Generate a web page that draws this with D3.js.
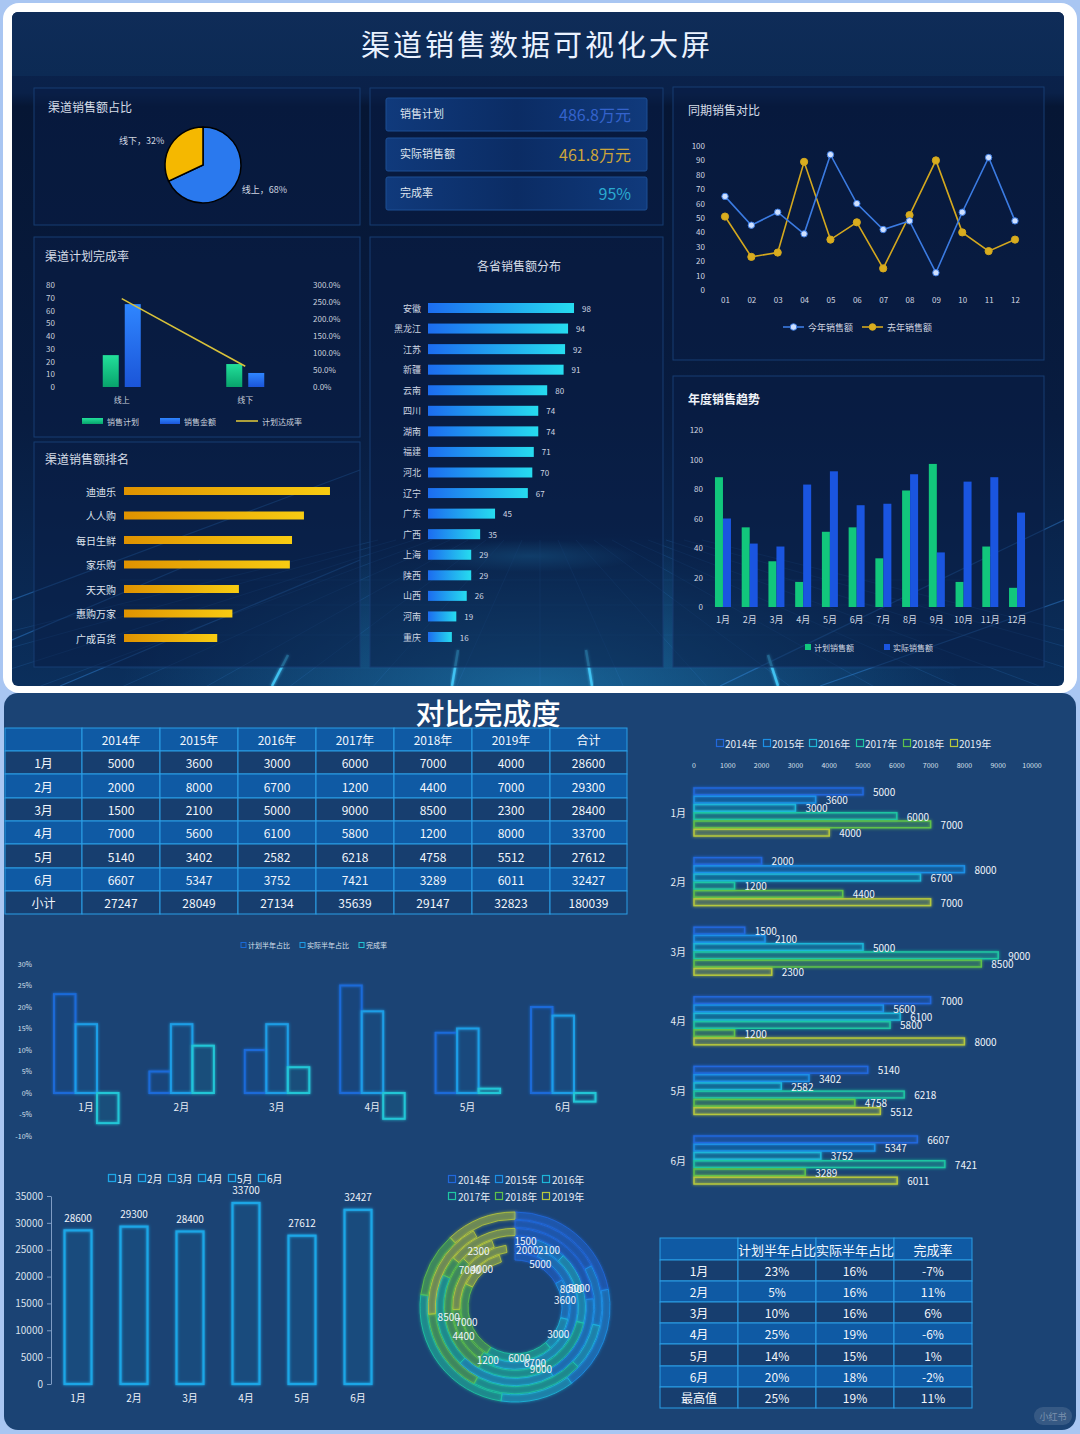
<!DOCTYPE html>
<html><head><meta charset="utf-8">
<script src="https://cdn.jsdelivr.net/npm/d3@7"></script>
<style>
html,body{margin:0;padding:0;background:#a9c6f2;}
svg{display:block;}
text{font-family:"Noto Sans CJK SC","Noto Sans",sans-serif;}
</style></head><body>
<svg id="c" width="1080" height="1434"></svg>
<script>
// ================= DATA =================
const pieNames=['线上','线下'];
const pieValues=[68,32];

const planCats=['线上','线下'];
const planTarget=[25,18];
const planActual=[65,11];
const planRate=[260,61];
const planLegend=['销售计划','销售金额','计划达成率'];
const planLeftTicks=[0,10,20,30,40,50,60,70,80];
const planRightTicks=[0,50,100,150,200,250,300];

const rankNames=['迪迪乐','人人购','每日生鲜','家乐购','天天购','惠购万家','广成百货'];
const rankValues=[95,83,77.5,76.5,53,50,43];

const kpiNames=['销售计划','实际销售额','完成率'];
const kpiValues=['486.8万元','461.8万元','95%'];

const provNames=['安徽','黑龙江','江苏','新疆','云南','四川','湖南','福建','河北','辽宁','广东','广西','上海','陕西','山西','河南','重庆'];
const provValues=[98,94,92,91,80,74,74,71,70,67,45,35,29,29,26,19,16];

const cmpMonths=['01','02','03','04','05','06','07','08','09','10','11','12'];
const cmpThisYear=[65,45,54,39,94,60,42,48,12,54,92,48];
const cmpLastYear=[51,23,26,89,35,47,15,52,90,40,27,35];
const cmpLegend=['今年销售额','去年销售额'];
const cmpTicks=[0,10,20,30,40,50,60,70,80,90,100];

const trendMonths=['1月','2月','3月','4月','5月','6月','7月','8月','9月','10月','11月','12月'];
const trendPlan=[88,54,31,17,51,54,33,79,97,17,41,13];
const trendActual=[60,43,41,83,92,69,70,90,37,85,88,64];
const trendLegend=['计划销售额','实际销售额'];
const trendTicks=[0,20,40,60,80,100,120];

const halfMonths=['1月','2月','3月','4月','5月','6月'];
const years=['2014年','2015年','2016年','2017年','2018年','2019年'];
const sales2014=[5000,2000,1500,7000,5140,6607];
const sales2015=[3600,8000,2100,5600,3402,5347];
const sales2016=[3000,6700,5000,6100,2582,3752];
const sales2017=[6000,1200,9000,5800,6218,7421];
const sales2018=[7000,4400,8500,1200,4758,3289];
const sales2019=[4000,7000,2300,8000,5512,6011];
const monthTotals=[28600,29300,28400,33700,27612,32427];
const yearTotals=[27247,28049,27134,35639,29147,32823];
const grandTotal=180039;
const totalTicks=[0,5000,10000,15000,20000,25000,30000,35000];
const hbarTicks=[0,1000,2000,3000,4000,5000,6000,7000,8000,9000,10000];

const planShare=[23,5,10,25,14,20];
const actualShare=[16,16,16,19,15,18];
const completion=[-7,11,6,-6,1,-2];
const shareMax=[25,19,11];
const shareLegend=['计划半年占比','实际半年占比','完成率'];
const shareTicks=[-10,-5,0,5,10,15,20,25,30];

// ================= HELPERS =================
const svg=d3.select('#c');
const defs=svg.append('defs');
function T(g,x,y,s,size,fill,anchor,extra){
  const t=g.append('text').attr('x',x).attr('y',y).text(s).attr('font-size',size)
    .attr('fill',fill||'#fff').attr('text-anchor',anchor||'start').attr('dominant-baseline','central');
  if(extra) for(const k in extra) t.attr(k,extra[k]);
  return t;
}
function lg(id,x1,y1,x2,y2,stops){
  const g=defs.append('linearGradient').attr('id',id).attr('x1',x1).attr('y1',y1).attr('x2',x2).attr('y2',y2);
  stops.forEach(s=>g.append('stop').attr('offset',s[0]).attr('stop-color',s[1]).attr('stop-opacity',s[2]==null?1:s[2]));
}
function styleAxis(sel,size,fill){
  sel.select('.domain').remove();
  sel.selectAll('.tick line').remove();
  sel.selectAll('text').attr('font-size',size).attr('fill',fill).attr('font-family','"Noto Sans CJK SC",sans-serif');
}
lg('dashBg',0,0,0,1,[[0,'#0b2450'],[0.12,'#0a2149'],[0.14,'#061634'],[0.6,'#081c40'],[1,'#0b2f5c']]);
lg('headBg',0,0,0,1,[[0,'#0f2c58'],[1,'#0c2a54']]);
lg('greenV',0,0,0,1,[[0,'#22e09a'],[1,'#08a36c']]);
lg('blueV',0,0,0,1,[[0,'#2f86ff'],[1,'#1b55d8']]);
lg('rankGrad',0,0,1,0,[[0,'#df9200'],[1,'#f8cc12']]);
lg('provGrad',0,0,1,0,[[0,'#1c6cf0'],[1,'#26dcef']]);
lg('kpiGrad',0,0,1,0,[[0,'#103a7c'],[0.5,'#0b2c64'],[1,'#103a7c']]);
const rg=defs.append('radialGradient').attr('id','bottomGlow').attr('cx','50%').attr('cy','50%').attr('r','50%');
rg.append('stop').attr('offset',0).attr('stop-color','#2aa6e0').attr('stop-opacity',0.45);
rg.append('stop').attr('offset',1).attr('stop-color','#2aa6e0').attr('stop-opacity',0);
const glow=defs.append('filter').attr('id','glow').attr('x','-20%').attr('y','-20%').attr('width','140%').attr('height','140%');
glow.append('feGaussianBlur').attr('in','SourceGraphic').attr('stdDeviation',1.6).attr('result','b');
const gm=glow.append('feMerge'); gm.append('feMergeNode').attr('in','b'); gm.append('feMergeNode').attr('in','SourceGraphic');
defs.append('clipPath').attr('id','dashClip').append('rect').attr('x',12).attr('y',12).attr('width',1052).attr('height',674).attr('rx',6);

// ================= BACKGROUND =================
svg.append('rect').attr('width',1080).attr('height',1434).attr('fill','#a9c6f2');
svg.append('rect').attr('x',3).attr('y',3).attr('width',1074).attr('height',690).attr('rx',16).attr('fill','#ffffff');
svg.append('rect').attr('x',12).attr('y',12).attr('width',1052).attr('height',674).attr('rx',6).attr('fill','url(#dashBg)');
const deco=svg.append('g').attr('clip-path','url(#dashClip)');
deco.append('rect').attr('x',12).attr('y',12).attr('width',1052).attr('height',64).attr('fill','url(#headBg)');
deco.append('ellipse').attr('cx',540).attr('cy',690).attr('rx',420).attr('ry',160).attr('fill','url(#bottomGlow)');
deco.append('ellipse').attr('cx',530).attr('cy',556).attr('rx',110).attr('ry',16).attr('fill','url(#bottomGlow)');
for(let i=-9;i<=9;i++){
  deco.append('line').attr('x1',540+i*18).attr('y1',540).attr('x2',540+i*85).attr('y2',690)
    .attr('stroke','#2f78c0').attr('stroke-opacity',0.22).attr('stroke-width',1);
}
[580,605,635,668].forEach(y=>deco.append('line').attr('x1',120).attr('x2',960).attr('y1',y).attr('y2',y)
  .attr('stroke','#2f78c0').attr('stroke-opacity',0.15));
[[12,640,200,560],[12,600,360,470],[60,686,360,560],[720,686,1064,520],[820,686,1064,600]].forEach(l=>
  deco.append('line').attr('x1',l[0]).attr('y1',l[1]).attr('x2',l[2]).attr('y2',l[3])
  .attr('stroke','#3fa0ff').attr('stroke-opacity',0.35).attr('stroke-width',1.2));
[[272,686,288,655],[452,686,458,650],[592,686,586,650],[778,686,768,655]].forEach(l=>
  deco.append('line').attr('x1',l[0]).attr('y1',l[1]).attr('x2',l[2]).attr('y2',l[3])
  .attr('stroke','#46d0ff').attr('stroke-opacity',0.8).attr('stroke-width',2.5).attr('filter','url(#glow)'));

T(svg,537,43,'渠道销售数据可视化大屏',29,'#eaf2ff','middle',{'letter-spacing':3});

function panel(x,y,w,h){
  svg.append('rect').attr('x',x).attr('y',y).attr('width',w).attr('height',h)
    .attr('fill','rgba(9,30,70,0.55)').attr('stroke','#163c72').attr('stroke-width',1);
}
panel(34,88,326,137); panel(34,237,326,200); panel(34,442,326,225);
panel(370,88,293,137); panel(370,237,293,430);
panel(673,87,371,273); panel(673,376,371,291);

// ================= PIE =================
T(svg,48,106,'渠道销售额占比',12,'#d6dde8');
const pieG=svg.append('g').attr('transform','translate(203,165)');
const pieArcs=d3.pie().sort(null)(pieValues);
pieG.selectAll('path').data(pieArcs).join('path').attr('d',d3.arc().innerRadius(0).outerRadius(38))
  .attr('fill',(d,i)=>['#2a79ee','#f5b800'][i]).attr('stroke','#000').attr('stroke-width',1.5);
const labArc=d3.arc().innerRadius(46).outerRadius(46);
pieArcs.forEach((d,i)=>{
  const c=labArc.centroid(d); const mid=(d.startAngle+d.endAngle)/2;
  T(pieG,c[0],c[1],pieNames[i]+'，'+pieValues[i]+'%',9,'#d0d6e0',Math.sin(mid)>0?'start':'end');
});

// ================= PLAN COMPLETION =================
T(svg,45,255,'渠道计划完成率',12,'#d6dde8');
const pX=d3.scaleBand(planCats,[60,307]);
const pY=d3.scaleLinear([0,80],[387,285]);
const pR=d3.scaleLinear([0,300],[387,285]);
svg.append('g').attr('transform','translate(55,0)').call(d3.axisLeft(pY).tickValues(planLeftTicks).tickSize(0).tickPadding(0)).call(s=>styleAxis(s,8,'#c8d0dc'));
svg.append('g').attr('transform','translate(313,0)').call(d3.axisRight(pR).tickValues(planRightTicks).tickSize(0).tickPadding(0).tickFormat(d=>d.toFixed(1)+'%')).call(s=>styleAxis(s,8,'#c8d0dc'));
const pc=c=>pX(c)+pX.bandwidth()/2;
planCats.forEach((c,i)=>{
  svg.append('rect').attr('x',pc(c)-19).attr('y',pY(planTarget[i])).attr('width',16).attr('height',pY(0)-pY(planTarget[i])).attr('fill','url(#greenV)');
  svg.append('rect').attr('x',pc(c)+3).attr('y',pY(planActual[i])).attr('width',16).attr('height',pY(0)-pY(planActual[i])).attr('fill','url(#blueV)');
  T(svg,pc(c),399,c,8,'#c8d0dc','middle');
});
svg.append('path').attr('d',d3.line().x((d,i)=>pc(planCats[i])).y(d=>pR(d))(planRate))
  .attr('fill','none').attr('stroke','#d9c23a').attr('stroke-width',1.6);
svg.append('rect').attr('x',82).attr('y',418).attr('width',21).attr('height',6).attr('fill','url(#greenV)');
T(svg,107,421,planLegend[0],8,'#c8d0dc');
svg.append('rect').attr('x',160).attr('y',418).attr('width',20).attr('height',6).attr('fill','url(#blueV)');
T(svg,184,421,planLegend[1],8,'#c8d0dc');
svg.append('line').attr('x1',236).attr('x2',258).attr('y1',421).attr('y2',421).attr('stroke','#d9c23a').attr('stroke-width',1.6);
T(svg,262,421,planLegend[2],8,'#c8d0dc');

// ================= RANKING =================
T(svg,45,458,'渠道销售额排名',12,'#d6dde8');
const rY=d3.scalePoint(rankNames,[491,638]);
const rX=d3.scaleLinear([0,100],[124,340.8]);
rankNames.forEach((n,i)=>{
  svg.append('rect').attr('x',rX(0)).attr('y',rY(n)-4).attr('width',rX(rankValues[i])-rX(0)).attr('height',8).attr('fill','url(#rankGrad)');
  T(svg,116,rY(n),n,10,'#dfe5ee','end');
});

// ================= KPI =================
const kpiColors=['#3463cc','#cda53a','#2aaad0'];
const kpiY=[98,138,177];
kpiNames.forEach((n,i)=>{
  svg.append('rect').attr('x',386).attr('y',kpiY[i]).attr('width',261).attr('height',33).attr('rx',2)
    .attr('fill','url(#kpiGrad)').attr('stroke','#1d4e94').attr('stroke-width',1);
  T(svg,400,kpiY[i]+15,n,11,'#dfe5ee');
  T(svg,631,kpiY[i]+16,kpiValues[i],16,kpiColors[i],'end');
});

// ================= PROVINCES =================
T(svg,519,265,'各省销售额分布',12,'#d6dde8','middle');
const pvY=d3.scalePoint(provNames,[308,637]);
const pvX=d3.scaleLinear([0,100],[428,577]);
provNames.forEach((n,i)=>{
  svg.append('rect').attr('x',pvX(0)).attr('y',pvY(n)-5).attr('width',pvX(provValues[i])-pvX(0)).attr('height',10).attr('fill','url(#provGrad)');
  T(svg,421,pvY(n),n,9,'#cfd6e2','end');
  T(svg,pvX(provValues[i])+8,pvY(n),provValues[i],8,'#cfd6e2');
});

// ================= SAME PERIOD LINE =================
T(svg,688,109,'同期销售对比',12,'#d6dde8');
const cX=d3.scalePoint(cmpMonths,[725,1015]);
const cY=d3.scaleLinear([0,100],[290,146]);
svg.append('g').attr('transform','translate(705,0)').call(d3.axisLeft(cY).tickValues(cmpTicks).tickSize(0).tickPadding(0)).call(s=>styleAxis(s,8,'#d0d6e0'));
svg.append('g').attr('transform','translate(0,297)').call(d3.axisBottom(cX).tickSize(0).tickPadding(0)).call(s=>styleAxis(s,8,'#d0d6e0'));
const cLine=d3.line().x((d,i)=>cX(cmpMonths[i])).y(d=>cY(d));
[[cmpLastYear,'#d4a81e','#d9ad1f',3.6],[cmpThisYear,'#3b7be2','#cfe0ff',3.2]].forEach(([arr,lc,fc,r])=>{
  svg.append('path').attr('d',cLine(arr)).attr('fill','none').attr('stroke',lc).attr('stroke-width',1.6);
  arr.forEach((v,i)=>svg.append('circle').attr('cx',cX(cmpMonths[i])).attr('cy',cY(v)).attr('r',r).attr('fill',fc).attr('stroke',lc).attr('stroke-width',1));
});
[[783,cmpLegend[0],'#3b7be2','#cfe0ff'],[862,cmpLegend[1],'#d4a81e','#d9ad1f']].forEach(([x,s,lc,fc])=>{
  svg.append('line').attr('x1',x).attr('x2',x+21).attr('y1',327).attr('y2',327).attr('stroke',lc).attr('stroke-width',1.6);
  svg.append('circle').attr('cx',x+10.5).attr('cy',327).attr('r',3.3).attr('fill',fc).attr('stroke',lc);
  T(svg,x+25,327,s,9,'#d0d6e0');
});

// ================= YEAR TREND =================
T(svg,688,398,'年度销售趋势',12,'#eef2f8','start',{'font-weight':'bold'});
const tX=d3.scaleBand(trendMonths,[709.6,1030.4]);
const tY=d3.scaleLinear([0,120],[607,430]);
svg.append('g').attr('transform','translate(703,0)').call(d3.axisLeft(tY).tickValues(trendTicks).tickSize(0).tickPadding(0)).call(s=>styleAxis(s,8,'#d0d6e0'));
trendMonths.forEach((m,i)=>{
  const c=tX(m)+tX.bandwidth()/2;
  svg.append('rect').attr('x',c-8).attr('y',tY(trendPlan[i])).attr('width',8).attr('height',tY(0)-tY(trendPlan[i])).attr('fill','#12c77c');
  svg.append('rect').attr('x',c).attr('y',tY(trendActual[i])).attr('width',8).attr('height',tY(0)-tY(trendActual[i])).attr('fill','#1a55e0');
  T(svg,c,619,m,9,'#d0d6e0','middle');
});
svg.append('rect').attr('x',805).attr('y',644).attr('width',6).attr('height',6).attr('fill','#12c77c');
T(svg,814,647,trendLegend[0],8,'#d0d6e0');
svg.append('rect').attr('x',884).attr('y',644).attr('width',6).attr('height',6).attr('fill','#1a55e0');
T(svg,893,647,trendLegend[1],8,'#d0d6e0');

// ================= BOTTOM SECTION =================
svg.append('rect').attr('x',4).attr('y',693).attr('width',1072).attr('height',737).attr('rx',14).attr('fill','#1b4374');
T(svg,488,712,'对比完成度',29,'#ffffff','middle',{'font-weight':500});

// ---- table 1
const t1Cols=[5,82,160,238,316,394,472,550,627];
const t1Rows=[728,751,774,798,821,844,868,891,914];
const t1Head=['',...years,'合计'];
const salesByYear=[sales2014,sales2015,sales2016,sales2017,sales2018,sales2019];
const t1Body=halfMonths.map((m,i)=>[m,...salesByYear.map(a=>a[i]),monthTotals[i]]);
t1Body.push(['小计',...yearTotals,grandTotal]);
const t1All=[t1Head,...t1Body];
t1All.forEach((row,r)=>{
  const fill=(r%2===0)?'#0f5aa4':'#173e6f';
  row.forEach((v,c)=>{
    svg.append('rect').attr('x',t1Cols[c]).attr('y',t1Rows[r]).attr('width',t1Cols[c+1]-t1Cols[c]).attr('height',t1Rows[r+1]-t1Rows[r])
      .attr('fill',fill).attr('stroke','#2a9ee6').attr('stroke-width',1);
    T(svg,(t1Cols[c]+t1Cols[c+1])/2,(t1Rows[r]+t1Rows[r+1])/2,v,12,'#f2f6fc','middle');
  });
});

// ---- share bar chart
const shareColors=['#1a6ad8','#1e9ee6','#22c6d6'];
const sX=d3.scalePoint(halfMonths,[86,563]);
const sY=d3.scaleLinear([-10,30],[1136,964]);
svg.append('g').attr('transform','translate(32,0)').call(d3.axisLeft(sY).tickValues(shareTicks).tickSize(0).tickPadding(0).tickFormat(d=>d+'%')).call(s=>styleAxis(s,7,'#d8e0ec'));
const shareG=svg.append('g').attr('filter','url(#glow)');
const shareSeries=[planShare,actualShare,completion];
const shareOff=[-32,-10.5,11];
halfMonths.forEach((m,i)=>{
  shareSeries.forEach((arr,k)=>{
    const v=arr[i];
    shareG.append('rect').attr('x',sX(m)+shareOff[k]).attr('y',Math.min(sY(v),sY(0))).attr('width',21.5)
      .attr('height',Math.abs(sY(v)-sY(0))).attr('fill',shareColors[k]).attr('fill-opacity',0.04)
      .attr('stroke',shareColors[k]).attr('stroke-width',2);
  });
  T(svg,sX(m),1106,m,10,'#e6ecf5','middle');
});
[[241,shareLegend[0]],[300,shareLegend[1]],[359,shareLegend[2]]].forEach(([x,s],k)=>{
  svg.append('rect').attr('x',x).attr('y',942.5).attr('width',5).attr('height',5).attr('fill','none').attr('stroke',shareColors[k]).attr('stroke-width',1);
  T(svg,x+7,945,s,7,'#d8e0ec');
});

// ---- monthly totals
const oX=d3.scalePoint(halfMonths,[78,358]);
const oY=d3.scaleLinear([0,35000],[1384,1196]);
svg.append('g').attr('transform','translate(51,0)').call(d3.axisLeft(oY).tickValues(totalTicks).tickSize(4).tickSizeOuter(0).tickPadding(4).tickFormat(d3.format('d')))
  .call(s=>{s.select('.domain').attr('stroke','#7f9cc4');s.selectAll('.tick line').attr('stroke','#7f9cc4');
    s.selectAll('text').attr('font-size',10).attr('fill','#d8e0ec').attr('font-family','"Noto Sans CJK SC",sans-serif');});
const totG=svg.append('g').attr('filter','url(#glow)');
halfMonths.forEach((m,i)=>{
  totG.append('rect').attr('x',oX(m)-13.5).attr('y',oY(monthTotals[i])).attr('width',27).attr('height',oY(0)-oY(monthTotals[i]))
    .attr('fill','#1ea6e6').attr('fill-opacity',0.04).attr('stroke','#1ea6e6').attr('stroke-width',2.2);
  T(svg,oX(m),oY(monthTotals[i])-13,monthTotals[i],10,'#eef3fa','middle');
  T(svg,oX(m),1397,m,10,'#eef3fa','middle');
});
[112,142,172,202,232,262].forEach((x,i)=>{
  svg.append('rect').attr('x',x-3.5).attr('y',1174.5).attr('width',7).attr('height',7).attr('fill','none').attr('stroke','#1ea6e6').attr('stroke-width',1.3);
  T(svg,x+5,1178,halfMonths[i],10,'#eef3fa');
});

// ---- radial stacked
const yearColors=['#2168dc','#1c90e6','#1db6d8','#1fc6a2','#5ec24a','#b6c83c'];
const radG=svg.append('g').attr('transform','translate(515,1307)');
const angle=d3.scaleLinear([0,30000],[0,2*Math.PI]).clamp(true);
const rad=d3.scaleBand(halfMonths,[47,95]).paddingInner(0.12);
const radArc=d3.arc();
const radSegs=radG.append('g').attr('filter','url(#glow)');
const radLabels=[];
halfMonths.forEach((m,i)=>{
  let cum=0;
  salesByYear.forEach((arr,j)=>{
    const v=arr[i];
    const d={innerRadius:rad(m),outerRadius:rad(m)+rad.bandwidth(),startAngle:angle(cum),endAngle:angle(cum+v)};
    radSegs.append('path').attr('d',radArc(d)).attr('fill',yearColors[j]).attr('fill-opacity',0.3)
      .attr('stroke',yearColors[j]).attr('stroke-opacity',0.85).attr('stroke-width',1);
    if(i<3) radLabels.push([radArc.centroid(d),v]);
    cum+=v;
  });
});
radLabels.forEach(([c,v])=>T(radG,c[0],c[1],v,10,'#f0f4fa','middle'));
[[452,1179],[499,1179],[546,1179],[452,1196],[499,1196],[546,1196]].forEach(([x,y],j)=>{
  svg.append('rect').attr('x',x-3.5).attr('y',y-3.5).attr('width',7).attr('height',7).attr('fill','none').attr('stroke',yearColors[j]).attr('stroke-width',1.2);
  T(svg,x+6,y,years[j],10,'#e6ecf5');
});

// ---- horizontal grouped bars
const hX=d3.scaleLinear([0,10000],[694,1032]);
const hY=d3.scalePoint(halfMonths,[812,1160]);
const hYY=d3.scaleBand(years,[-24,24]).paddingInner(0.18);
hbarTicks.forEach(t=>T(svg,hX(t),765,t,7,'#d8e0ec','middle'));
const hG=svg.append('g').attr('filter','url(#glow)');
halfMonths.forEach((m,i)=>{
  T(svg,686,hY(m),m,10,'#e6ecf5','end');
  salesByYear.forEach((arr,j)=>{
    const y=hY(m)+hYY(years[j]);
    hG.append('rect').attr('x',hX(0)).attr('y',y).attr('width',hX(arr[i])-hX(0)).attr('height',hYY.bandwidth())
      .attr('fill',yearColors[j]).attr('fill-opacity',0.15).attr('stroke',yearColors[j]).attr('stroke-width',1.5);
    T(svg,hX(arr[i])+10,y+hYY.bandwidth()/2,arr[i],10,'#eef3fa');
  });
});
[720,767,813,860,907,954].forEach((x,j)=>{
  svg.append('rect').attr('x',x-3.5).attr('y',739.5).attr('width',7).attr('height',7).attr('fill','none').attr('stroke',yearColors[j]).attr('stroke-width',1.2);
  T(svg,x+5,743,years[j],10,'#e6ecf5');
});

// ---- table 2
const t2Cols=[660,738,816,894,972];
const t2Rows=[1238,1260,1281,1302,1323,1344,1366,1387,1408];
const pct=v=>v+'%';
const t2All=[['',...shareLegend]];
halfMonths.forEach((m,i)=>t2All.push([m,pct(planShare[i]),pct(actualShare[i]),pct(completion[i])]));
t2All.push(['最高值',...shareMax.map(pct)]);
t2All.forEach((row,r)=>{
  const fill=(r%2===0)?'#0f5aa4':'#173e6f';
  row.forEach((v,c)=>{
    svg.append('rect').attr('x',t2Cols[c]).attr('y',t2Rows[r]).attr('width',t2Cols[c+1]-t2Cols[c]).attr('height',t2Rows[r+1]-t2Rows[r])
      .attr('fill',fill).attr('stroke','#2a9ee6').attr('stroke-width',1);
  });
});
t2All.forEach((row,r)=>row.forEach((v,c)=>T(svg,(t2Cols[c]+t2Cols[c+1])/2,(t2Rows[r]+t2Rows[r+1])/2,v,r===0?13:12,'#f2f6fc','middle')));

// watermark
svg.append('rect').attr('x',1034).attr('y',1407).attr('width',38).attr('height',18).attr('rx',9).attr('fill','#ffffff').attr('fill-opacity',0.12);
T(svg,1053,1416,'小红书',9,'#ffffff','middle',{'fill-opacity':0.35});
</script>
</body></html>
